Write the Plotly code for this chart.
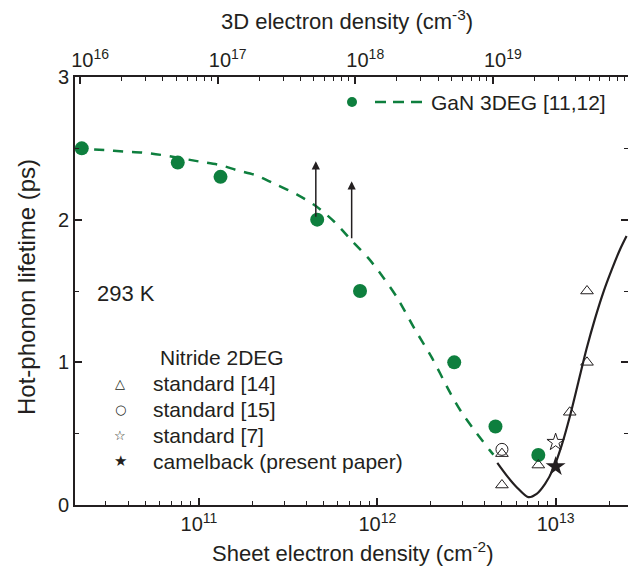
import math
import plotly.graph_objects as go

# GaN 3DEG hot-phonon lifetimes (refs 11,12)
gan3d_n = [2.2e10, 7.6e10, 1.32e11, 4.6e11, 8.0e11, 2.7e12, 4.6e12, 8.0e12]
gan3d_tau = [2.5, 2.4, 2.3, 2.0, 1.5, 1.0, 0.55, 0.35]

# dashed guide through the 3DEG data
gan3d_fit_n = [2.02e10, 2.97e10, 3.8e10, 4.86e10, 6.2e10, 1.01e11, 1.31e11, 1.66e11,
               2.1e11, 2.74e11, 3.55e11, 4.48e11, 5.72e11, 7.21e11, 8.98e11, 1.08e12,
               1.29e12, 1.61e12, 2.03e12, 2.56e12, 2.98e12, 3.57e12, 4.29e12, 4.48e12]
gan3d_fit_tau = [2.50, 2.488, 2.477, 2.470, 2.453, 2.407, 2.383, 2.344,
                 2.31, 2.243, 2.176, 2.099, 1.987, 1.851, 1.725, 1.595,
                 1.455, 1.24, 1.029, 0.787, 0.647, 0.511, 0.381, 0.353]

# nitride 2DEG data
std14_n = [5.0e12, 5.0e12, 8.0e12, 1.2e13, 1.5e13, 1.5e13]
std14_tau = [0.14, 0.36, 0.28, 0.65, 1.0, 1.5]
std15_n = [5.0e12]
std15_tau = [0.39]
std7_n = [1.0e13]
std7_tau = [0.44]
camel_n = [1.0e13]
camel_tau = [0.27]

# solid guide through the 2DEG data
twodeg_fit_n = [4.71e12, 5.32e12, 6.05e12, 7.03e12, 7.83e12, 8.73e12, 9.70e12, 1.08e13,
                1.205e13, 1.34e13, 1.49e13, 1.66e13, 1.85e13, 2.07e13, 2.30e13, 2.50e13]
twodeg_fit_tau = [0.295, 0.206, 0.125, 0.055, 0.078, 0.148, 0.253, 0.416,
                  0.626, 0.859, 1.093, 1.303, 1.489, 1.653, 1.793, 1.886]

# lower-bound arrows (start, tip)
arrow_n = [4.52e11, 7.18e11]
arrow_tau_from = [2.01, 1.86]
arrow_tau_to = [2.41, 2.27]

# axis ticks
bottom_ticks = [1e11, 1e12, 1e13]
top_ticks = [1e16, 1e17, 1e18, 1e19]
y_ticks = [0, 1, 2, 3]

GREEN = "#0e7f3e"
INK = "#231f20"
FONT = "Liberation Sans, Arial, Helvetica, sans-serif"

def sup_labels(vals):
    return ["10<sup>%d</sup>" % round(math.log10(v)) for v in vals]

def minor_log(lo, hi):
    return [float(m) * 10.0 ** d for d in range(lo, hi) for m in range(2, 10)]

fig = go.Figure()

fig.add_trace(go.Scatter(x=gan3d_fit_n, y=gan3d_fit_tau, mode="lines",
                         line=dict(color=GREEN, width=2.5, dash="10px,9px",
                                   shape="spline", smoothing=0.8),
                         showlegend=False, hoverinfo="skip"))
fig.add_trace(go.Scatter(x=gan3d_n, y=gan3d_tau, mode="markers",
                         marker=dict(color=GREEN, size=14), showlegend=False))
fig.add_trace(go.Scatter(x=twodeg_fit_n, y=twodeg_fit_tau, mode="lines",
                         line=dict(color=INK, width=2.2, shape="spline", smoothing=0.8),
                         showlegend=False, hoverinfo="skip"))
fig.add_trace(go.Scatter(x=std14_n, y=std14_tau, mode="markers",
                         marker=dict(symbol="triangle-up-open", size=11, color=INK,
                                     line=dict(width=1)), showlegend=False))
fig.add_trace(go.Scatter(x=std15_n, y=std15_tau, mode="markers",
                         marker=dict(symbol="circle-open", size=12, color=INK,
                                     line=dict(width=1)), showlegend=False))
fig.add_trace(go.Scatter(x=std7_n, y=std7_tau, mode="markers",
                         marker=dict(symbol="star-open", size=13, color=INK,
                                     line=dict(width=1)), showlegend=False))
fig.add_trace(go.Scatter(x=camel_n, y=camel_tau, mode="markers",
                         marker=dict(symbol="star", size=15, color=INK,
                                     line=dict(width=0)), showlegend=False))
# empty traces that anchor the top and right axes
fig.add_trace(go.Scatter(x=[None], y=[None], xaxis="x2", yaxis="y",
                         showlegend=False, hoverinfo="skip"))
fig.add_trace(go.Scatter(x=[None], y=[None], xaxis="x", yaxis="y2",
                         showlegend=False, hoverinfo="skip"))

for n, t0, t1 in zip(arrow_n, arrow_tau_from, arrow_tau_to):
    fig.add_annotation(x=math.log10(n), y=t1, ax=math.log10(n), ay=t0,
                       xref="x", yref="y", axref="x", ayref="y",
                       showarrow=True, arrowhead=2, arrowsize=1.1,
                       arrowwidth=1.5, arrowcolor=INK, text="")

tick_font = dict(family=FONT, size=20, color=INK)
axis_common = dict(showgrid=False, zeroline=False, linecolor=INK, linewidth=2,
                   ticks="inside", tickcolor=INK, tickwidth=1.5, ticklen=7,
                   tickfont=tick_font)

fig.update_layout(
    width=628, height=576,
    margin=dict(l=75, r=0, t=77, b=71),
    paper_bgcolor="white", plot_bgcolor="white",
    font=dict(family=FONT, color=INK),
    xaxis=dict(type="log", range=[10.3045, 13.406], tickvals=bottom_ticks,
               ticktext=sup_labels(bottom_ticks), showline=True,
               minor=dict(tickvals=minor_log(10, 14), ticks="inside", ticklen=4,
                          tickcolor=INK, tickwidth=1.2),
               **axis_common),
    xaxis2=dict(type="log", range=[15.963, 19.982], overlaying="x", side="top",
                anchor="y", tickvals=top_ticks, ticktext=sup_labels(top_ticks),
                showline=True, ticklabelshift=10,
                minor=dict(tickvals=minor_log(15, 20), ticks="inside", ticklen=4,
                           tickcolor=INK, tickwidth=1.2),
                **axis_common),
    yaxis=dict(range=[0, 3], tickvals=y_ticks, showline=True,
               minor=dict(dtick=0.5, ticks="inside", ticklen=4, tickcolor=INK,
                          tickwidth=1.2),
               **axis_common),
    yaxis2=dict(range=[0, 3], overlaying="y", side="right", anchor="x",
                tickvals=y_ticks, showticklabels=False, showline=False,
                showgrid=False, zeroline=False, ticks="inside", tickcolor=INK,
                tickwidth=1.5, ticklen=7,
                minor=dict(dtick=0.5, ticks="inside", ticklen=4, tickcolor=INK,
                           tickwidth=1.2)),
)

W, H, L, T, B = 628, 576, 75, 77, 71
pw, ph = W - L, H - T - B

def px(x):
    return (x - L) / pw

def py(y):
    return (H - B - y) / ph

title_font = dict(family=FONT, size=22, color=INK)
fig.add_annotation(text="Sheet electron density (cm<sup>-2</sup>)", x=px(352), y=py(552),
                   xref="paper", yref="paper", showarrow=False, font=title_font,
                   xanchor="center", yanchor="middle")
fig.add_annotation(text="3D electron density (cm<sup>-3</sup>)", x=px(347), y=py(20),
                   xref="paper", yref="paper", showarrow=False, font=title_font,
                   xanchor="center", yanchor="middle")
fig.add_annotation(text="Hot-phonon lifetime (ps)", x=px(26), y=py(287),
                   xref="paper", yref="paper", showarrow=False,
                   font=dict(family=FONT, size=24, color=INK),
                   textangle=-90, xanchor="center", yanchor="middle")
fig.add_annotation(text="293 K", x=px(95), y=py(293), xref="paper", yref="paper",
                   showarrow=False, font=dict(family=FONT, size=22, color=INK),
                   xanchor="left", yanchor="middle")

# GaN 3DEG key
legend_font = dict(family=FONT, size=21, color=INK)
fig.add_shape(type="circle", xref="paper", yref="paper", xsizemode="pixel",
              ysizemode="pixel", xanchor=px(352), yanchor=py(102),
              x0=-5, x1=5, y0=-5, y1=5, fillcolor=GREEN, line=dict(width=0))
fig.add_shape(type="line", xref="paper", yref="paper", x0=px(375), x1=px(423),
              y0=py(102), y1=py(102), line=dict(color=GREEN, width=2.5, dash="11px,7px"))
fig.add_annotation(text="GaN 3DEG [11,12]", x=px(429), y=py(102), xref="paper", yref="paper",
                   showarrow=False, font=legend_font, xanchor="left", yanchor="middle")

# Nitride 2DEG key
fig.add_annotation(text="Nitride 2DEG", x=px(158), y=py(357), xref="paper", yref="paper",
                   showarrow=False, font=legend_font, xanchor="left", yanchor="middle")
key_rows = [("\u25b3", "standard [14]", 383, 13), ("\u25cb", "standard [15]", 409, 13),
            ("\u2606", "standard [7]", 435, 13), ("\u2605", "camelback (present paper)", 461, 15)]
for glyph, label, yy, gsize in key_rows:
    fig.add_annotation(text=glyph, x=px(120), y=py(yy), xref="paper", yref="paper",
                       showarrow=False, font=dict(family="DejaVu Sans", size=gsize, color=INK),
                       xanchor="center", yanchor="middle")
    fig.add_annotation(text=label, x=px(151), y=py(yy), xref="paper", yref="paper",
                       showarrow=False, font=legend_font, xanchor="left", yanchor="middle")

fig.write_html("out.html")
